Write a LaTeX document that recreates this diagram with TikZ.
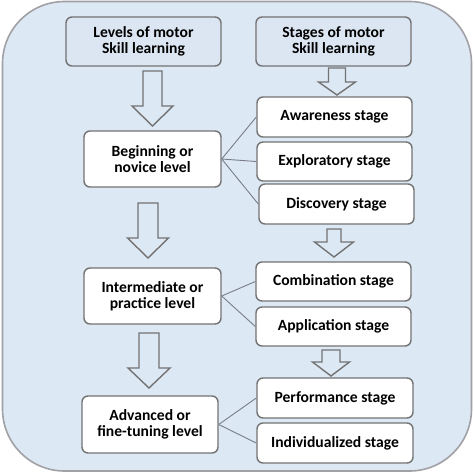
\documentclass[tikz,border=0pt]{standalone}
\usepackage{fontspec}
\setmainfont{Carlito}
\definecolor{bgblue}{RGB}{221,232,245}
\definecolor{hdrblue}{RGB}{220,230,242}
\definecolor{boxline}{RGB}{115,115,115}
\definecolor{outline}{RGB}{160,160,165}
\definecolor{linkgray}{RGB}{120,125,135}
\begin{document}
\begin{tikzpicture}[x=1pt,y=-1pt,
  box/.style={draw=boxline,line width=1.4pt,rounded corners=6pt,fill=white,
    inner sep=0pt,align=center,font=\fontsize{15.6}{16}\selectfont\bfseries},
  hdr/.style={box,fill=hdrblue},
  link/.style={draw=linkgray,line width=0.9pt},
  blockarr/.style={draw=boxline,line width=1.4pt,fill=bgblue,line join=miter}]
\useasboundingbox (0,0) rectangle (474,474);
\fill[white] (0,0) rectangle (474,474);
\draw[outline,line width=1.6pt,fill=bgblue,rounded corners=62pt] (2.5,1.5) rectangle (471.5,471);

\newcommand\blkarrow[6]{%
  \draw[blockarr] ({#1-#5},#2) -- ({#1+#5},#2) -- ({#1+#5},#3) -- ({#1+#6},#3)
    -- (#1,#4) -- ({#1-#6},#3) -- ({#1-#5},#3) -- cycle;}

% headers
\node[hdr,minimum width=155pt,minimum height=49pt] (hl) at (143.5,41.5) {Levels of motor\\Skill learning};
\node[hdr,minimum width=155pt,minimum height=49pt] (hr) at (333.5,41.5) {Stages of motor\\Skill learning};

% levels
\node[box,minimum width=137pt,minimum height=56pt] (beg) at (152.5,159) {Beginning or\\novice level};
\node[box,minimum width=137pt,minimum height=56pt] (int) at (152.5,296) {Intermediate or\\practice level};
\node[box,minimum width=136pt,minimum height=57pt] (adv) at (150,424.5) {Advanced or\\fine-tuning level};

% stages
\node[box,minimum width=155pt,minimum height=40pt] (awa) at (334.5,117) {Awareness stage};
\node[box,minimum width=155pt,minimum height=39pt] (exp) at (334.5,161.5) {Exploratory stage};
\node[box,minimum width=155pt,minimum height=40pt] (dis) at (336.5,204) {Discovery stage};
\node[box,minimum width=155pt,minimum height=39pt] (com) at (333.5,281.5) {Combination stage};
\node[box,minimum width=155pt,minimum height=39pt] (app) at (333.5,326.5) {Application stage};
\node[box,minimum width=156pt,minimum height=40pt] (per) at (335,398) {Performance stage};
\node[box,minimum width=156pt,minimum height=40pt] (ind) at (335,443) {Individualized stage};

% block arrows
\blkarrow{152.5}{71}{106}{126}{9.5}{20.5}
\blkarrow{148}{203}{238}{258}{10}{20.5}
\blkarrow{149}{333}{368}{388}{10}{21}
\blkarrow{337}{68}{82}{95}{8.5}{18.5}
\blkarrow{334}{229}{242}{257}{7}{19.5}
\blkarrow{331}{350}{362}{376}{9}{18.5}

% connectors
\draw[link] (beg.east) -- (awa.west);
\draw[link] (beg.east) -- (exp.west);
\draw[link] (beg.east) -- (dis.west);
\draw[link] (int.east) -- (com.west);
\draw[link] (int.east) -- (app.west);
\draw[link] (adv.east) -- (per.west);
\draw[link] (adv.east) -- (ind.west);
\end{tikzpicture}
\end{document}
